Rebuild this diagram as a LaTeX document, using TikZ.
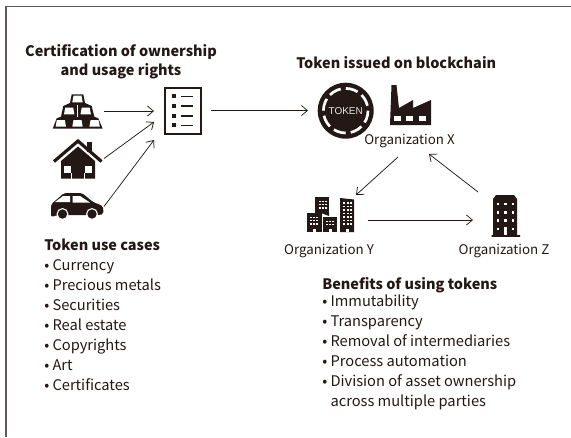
\documentclass[tikz,border=0pt]{standalone}
\usepackage{fontspec}
\setmainfont{Noto Sans CJK JP}
\newfontfamily\tokfont{Liberation Sans}
\usetikzlibrary{arrows.meta}
\definecolor{ink}{HTML}{231815}
\definecolor{framec}{HTML}{5F5855}
\tikzset{
  body/.style={font=\fontsize{10pt}{12pt}\selectfont,text=ink,inner sep=0pt},
  listitem/.style={font=\fontsize{11pt}{13pt}\selectfont,text=ink,inner sep=0pt},
  head/.style={font=\fontsize{10.85pt}{13pt}\selectfont\bfseries,text=ink,inner sep=0pt},
  conn/.style={draw=ink,line width=0.55pt,-{Straight Barb[length=4.5pt,width=7.5pt,line width=0.55pt]}},
}
\newcommand{\goldwin}[2]{%
  \fill[white] (#1-5.2,#2+3.3) -- (#1-4,#2-3.3) -- (#1+4,#2-3.3) -- (#1+5.2,#2+3.3) -- cycle;}
\begin{document}
\begin{tikzpicture}[x=0.75pt,y=-0.75pt]
\useasboundingbox (0,0) rectangle (571,437);
\draw[framec,line width=0.9pt] (6,437) -- (6,6.5) -- (571,6.5);

% headings
\node[head,anchor=base] (h1) at (121,56.5) {Certification of ownership};
\node[head,anchor=base] (h2) at (121,75) {and usage rights};
\node[head,anchor=base west] (h3) at (296,68) {Token issued on blockchain};
\node[head,anchor=base west] (h4) at (44,250) {Token use cases};
\node[head,anchor=base west] (h5) at (322,289) {Benefits of using tokens};

% gold
\fill[ink] (71.7,94.3) -- (83.3,94.3) -- (85,103) -- (91.7,106) -- (94.3,116.7) -- (98.3,118.3) -- (102.7,128.7) -- (52.7,128.7) -- (56.7,118.3) -- (61,116.7) -- (63.3,106) -- (70,103) -- cycle;
\goldwin{77.5}{99}
\goldwin{69.2}{111}\goldwin{85.7}{111}
\goldwin{60.8}{123.3}\goldwin{77.5}{123.3}\goldwin{94.6}{123.3}
\fill[white] (76.9,105) rectangle (78.1,117);
\coordinate (goldout) at (104,111);

% house
\draw[ink,line width=2.4pt,line join=miter] (54,161.5) -- (78,141) -- (101.5,161.5);
\fill[ink] (87,142) rectangle (92,152);
\fill[ink] (61,161) -- (78,146.5) -- (95,161) -- (95,178.5) -- (61,178.5) -- cycle;
\fill[white] (64,166) rectangle (71,172.5);
\fill[white] (85,166) rectangle (92,172.5);
\fill[white] (71,172.5) rectangle (71.8,178.5);
\fill[white] (84.2,172.5) rectangle (85,178.5);
\coordinate (houseout) at (104,158.5);

% car
\fill[ink,rounded corners=1.5pt] (51,217) -- (51,204) -- (55,201) -- (64,193) -- (82,193) -- (93,202) -- (103,206) -- (103.5,214) -- (100,215) -- (58,215) -- cycle;
\fill[white] (55,202) -- (63,196) -- (70,196) -- (70,202) -- cycle;
\fill[white] (72.5,196) -- (80,196) -- (90,202.5) -- (72.5,202.5) -- cycle;
\fill[ink,draw=white,line width=0.8pt] (62.5,214) circle (5.4);
\fill[ink,draw=white,line width=0.8pt] (92,214) circle (5.4);
\coordinate (carout) at (104,206.5);

% document
\node[draw=ink,line width=1.6pt,minimum width=27.5pt,minimum height=34.3pt,inner sep=0pt] (doc) at (183,110.7) {};
\foreach \yy in {96.3,105.8,115.7,125.3}{
  \fill[ink] (172,\yy-2) rectangle (176,\yy+2);
  \fill[ink] (181,\yy-0.8) rectangle (193,\yy+0.8);
}
\coordinate (docin1) at (154,111);
\coordinate (docin2) at (154,122);
\coordinate (docin3) at (154,140);
\coordinate (docout) at (211,110.5);

% token
\node[circle,fill=ink,minimum size=42pt,inner sep=0pt,text=white!88!ink,font=\tokfont\fontsize{7.5pt}{8pt}\selectfont] (token) at (345.7,110.7) {TOKEN};
\draw[white,line width=2pt,dash pattern=on 9.3pt off 3.83pt] (345.7,110.7) circle (22.3);
\coordinate (tokenin) at (308,110.5);

% factory
\fill[ink] (390,125) -- (391.5,85) -- (396.5,85) -- (399,108) -- (413,100) -- (413,108) -- (431,100) -- (431,125) -- cycle;
\foreach \xx in {393.5,406,418.5}{\fill[white] (\xx,116) rectangle (\xx+7.3,121);}
\node[body,anchor=base] (orgx) at (409.5,144) {Organization X};
\coordinate (xout) at (398,157);
\coordinate (xin) at (429,154);

% organisation Y
\fill[ink] (315,197) rectangle (329,213);
\fill[ink] (329,213) -- (329,216) -- (321,213) -- cycle;
\fill[ink] (306.7,213) rectangle (321.7,232);
\fill[ink] (323,217) rectangle (337,232);
\fill[ink] (340,198) -- (354,199.5) -- (354,232) -- (340,232) -- cycle;
\foreach \xx in {319,322.2,325.4}{\foreach \yy in {200.5,203.7,206.9}{\fill[white] (\xx,\yy) rectangle (\xx+1.7,\yy+1.7);}}
\foreach \xx in {310,313.2,316.4}{\foreach \yy in {216.5,219.7,222.9}{\fill[white] (\xx,\yy) rectangle (\xx+1.7,\yy+1.7);}}
\foreach \xx in {326,329.2,332.4}{\foreach \yy in {220.5,223.7}{\fill[white] (\xx,\yy) rectangle (\xx+1.7,\yy+1.7);}}
\foreach \xx in {343.3,346.9,350.3}{\foreach \yy in {202,205.5,209,212.5,216,219.5,223}{\fill[white] (\xx,\yy) rectangle (\xx+1.7,\yy+1.7);}}
\fill[white] (313,228.5) rectangle (315.5,232);
\fill[white] (329,228.5) rectangle (331.5,232);
\fill[white] (346,228.5) rectangle (348.5,232);
\node[body,anchor=base] (orgy) at (329,254) {Organization Y};
\coordinate (yin) at (356,195);
\coordinate (yout) at (368,220);

% organisation Z
\fill[ink] (493,199) -- (496,195) -- (514,195) -- (517,199) -- (517,235) -- (520,235) -- (520,236.8) -- (491.5,236.8) -- (491.5,235) -- (493,235) -- cycle;
\foreach \yy in {204,212.3,220.6,229}{\foreach \xx in {498,505.5,513}{\fill[white] (\xx-1.4,\yy-1.4) rectangle (\xx+1.4,\yy+1.4);}}
\fill[white] (504.3,227) rectangle (506.7,235);
\node[body,anchor=base] (orgz) at (504,254) {Organization Z};
\coordinate (zin) at (473,220);
\coordinate (zout) at (478,192);

% connectors
\draw[conn] (goldout) -- (docin1);
\draw[conn] (houseout) -- (docin2);
\draw[conn] (carout) -- (docin3);
\draw[conn] (docout) -- (tokenin);
\draw[conn] (xout) -- (yin);
\draw[conn] (yout) -- (zin);
\draw[conn] (zout) -- (xin);

% lists
\node[listitem,anchor=base west] (a1) at (44,270.5) {• Currency};
\node[listitem,anchor=base west] (a2) at (44,290.5) {• Precious metals};
\node[listitem,anchor=base west] (a3) at (44,310.5) {• Securities};
\node[listitem,anchor=base west] (a4) at (44,330.5) {• Real estate};
\node[listitem,anchor=base west] (a5) at (44,350.5) {• Copyrights};
\node[listitem,anchor=base west] (a6) at (44,370.5) {• Art};
\node[listitem,anchor=base west] (a7) at (44,390.5) {• Certificates};
\node[listitem,anchor=base west] (b1) at (322,306.5) {• Immutability};
\node[listitem,anchor=base west] (b2) at (322,326.5) {• Transparency};
\node[listitem,anchor=base west] (b3) at (322,346.5) {• Removal of intermediaries};
\node[listitem,anchor=base west] (b4) at (322,366.5) {• Process automation};
\node[listitem,anchor=base west] (b5) at (322,386.5) {• Division of asset ownership};
\node[listitem,anchor=base west] (b6) at (330.3,406.5) {across multiple parties};
\end{tikzpicture}
\end{document}
